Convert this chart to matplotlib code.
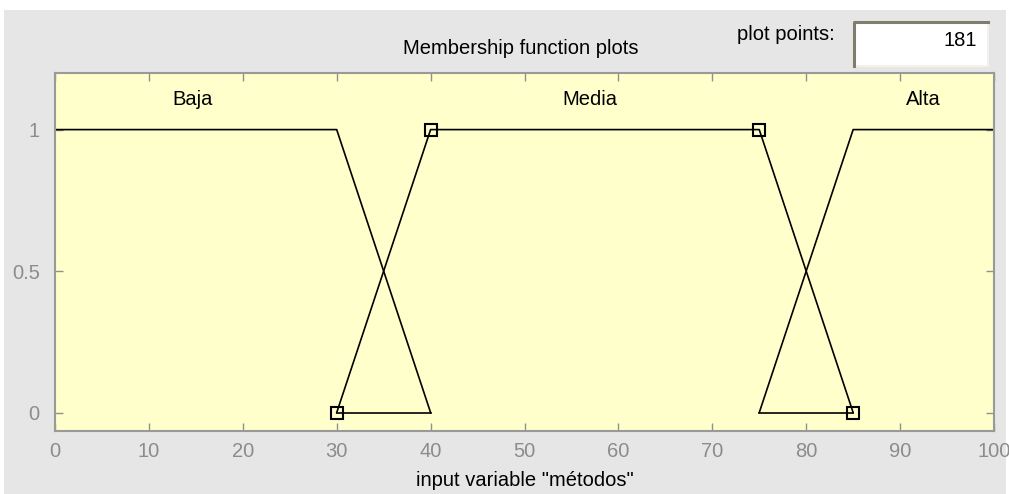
import matplotlib
matplotlib.use("Agg")
import matplotlib.pyplot as plt
from matplotlib.patches import Rectangle
from matplotlib.lines import Line2D

# membership functions of input variable "métodos"
baja_x = [0, 30, 40]
baja_y = [1, 1, 0]
media_x = [30, 40, 75, 85]
media_y = [0, 1, 1, 0]
alta_x = [75, 85, 100]
alta_y = [0, 1, 1]
# zero-level segments under the crossings
base1_x = [30, 40]
base2_x = [75, 85]
base_y = [0, 0]

mf_names = ["Baja", "Media", "Alta"]
name_x = [14.6, 57.0, 92.5]
x_ticks = [0, 10, 20, 30, 40, 50, 60, 70, 80, 90, 100]
y_ticks = [0, 0.5, 1]
plot_points = 181

W, H = 1009, 494
FS = 14.5
fig = plt.figure(figsize=(W / 100, H / 100), dpi=100, facecolor="white")
plt.rcParams["font.family"] = ["Liberation Sans", "DejaVu Sans"]

# grey panel
fig.patches.append(Rectangle((4 / W, 0), (1006 - 4) / W, (H - 10) / H,
                             transform=fig.transFigure, facecolor="#e6e6e6",
                             edgecolor="none", zorder=-10))

ax = fig.add_axes([55 / W, 1 - 431 / H, (994 - 55) / W, (431 - 73) / H])
ax.set_facecolor("#ffffcc")

ax.plot(baja_x, baja_y, color="black", lw=1.2)
ax.plot(alta_x, alta_y, color="black", lw=1.2)
ax.plot(base1_x, base_y, color="black", lw=1.2)
ax.plot(base2_x, base_y, color="black", lw=1.2)
ax.plot(media_x, media_y, color="black", lw=1.2, marker="s", ms=8.5,
        mfc="none", mec="black", mew=1.5)

for name, nx in zip(mf_names, name_x):
    ax.text(nx, 1.105, name, ha="center", va="center", fontsize=FS)

ax.set_xlim(0, 100)
ax.set_ylim(-0.065, 1.2)
ax.set_xticks(x_ticks)
ax.set_yticks(y_ticks)
ax.set_yticklabels(["0", "0.5", "1"])
ax.tick_params(direction="in", top=True, right=True, length=6, width=1,
               color="#909090", labelcolor="#8c8c8c", labelsize=FS)
ax.tick_params(axis="x", pad=8)
ax.tick_params(axis="y", pad=11)
for s in ax.spines.values():
    s.set_color("#999999")
    s.set_linewidth(1.5)

ax.set_xlabel('input variable "métodos"', fontsize=FS, labelpad=7)

fig.text(521 / W, 1 - 48 / H, "Membership function plots", ha="center",
         va="center", fontsize=FS)
fig.text(786 / W, 1 - 35 / H, "plot points:", ha="center", va="center",
         fontsize=FS)

# edit box with sunken border
bx0, bx1, by0, by1 = 854, 988, 22, 66
fig.patches.append(Rectangle((bx0 / W, 1 - by1 / H), (bx1 - bx0) / W,
                             (by1 - by0) / H, transform=fig.transFigure,
                             facecolor="white", edgecolor="#f4f0ec", lw=1.5))
fig.lines.append(Line2D([bx0 / W, bx0 / W, bx1 / W],
                        [1 - by1 / H, 1 - by0 / H, 1 - by0 / H],
                        transform=fig.transFigure, color="#807c70", lw=2.2))
fig.text(977 / W, 1 - 41 / H, str(plot_points), ha="right", va="center",
         fontsize=FS)

fig.savefig("out.png", dpi=100, facecolor=fig.get_facecolor())
